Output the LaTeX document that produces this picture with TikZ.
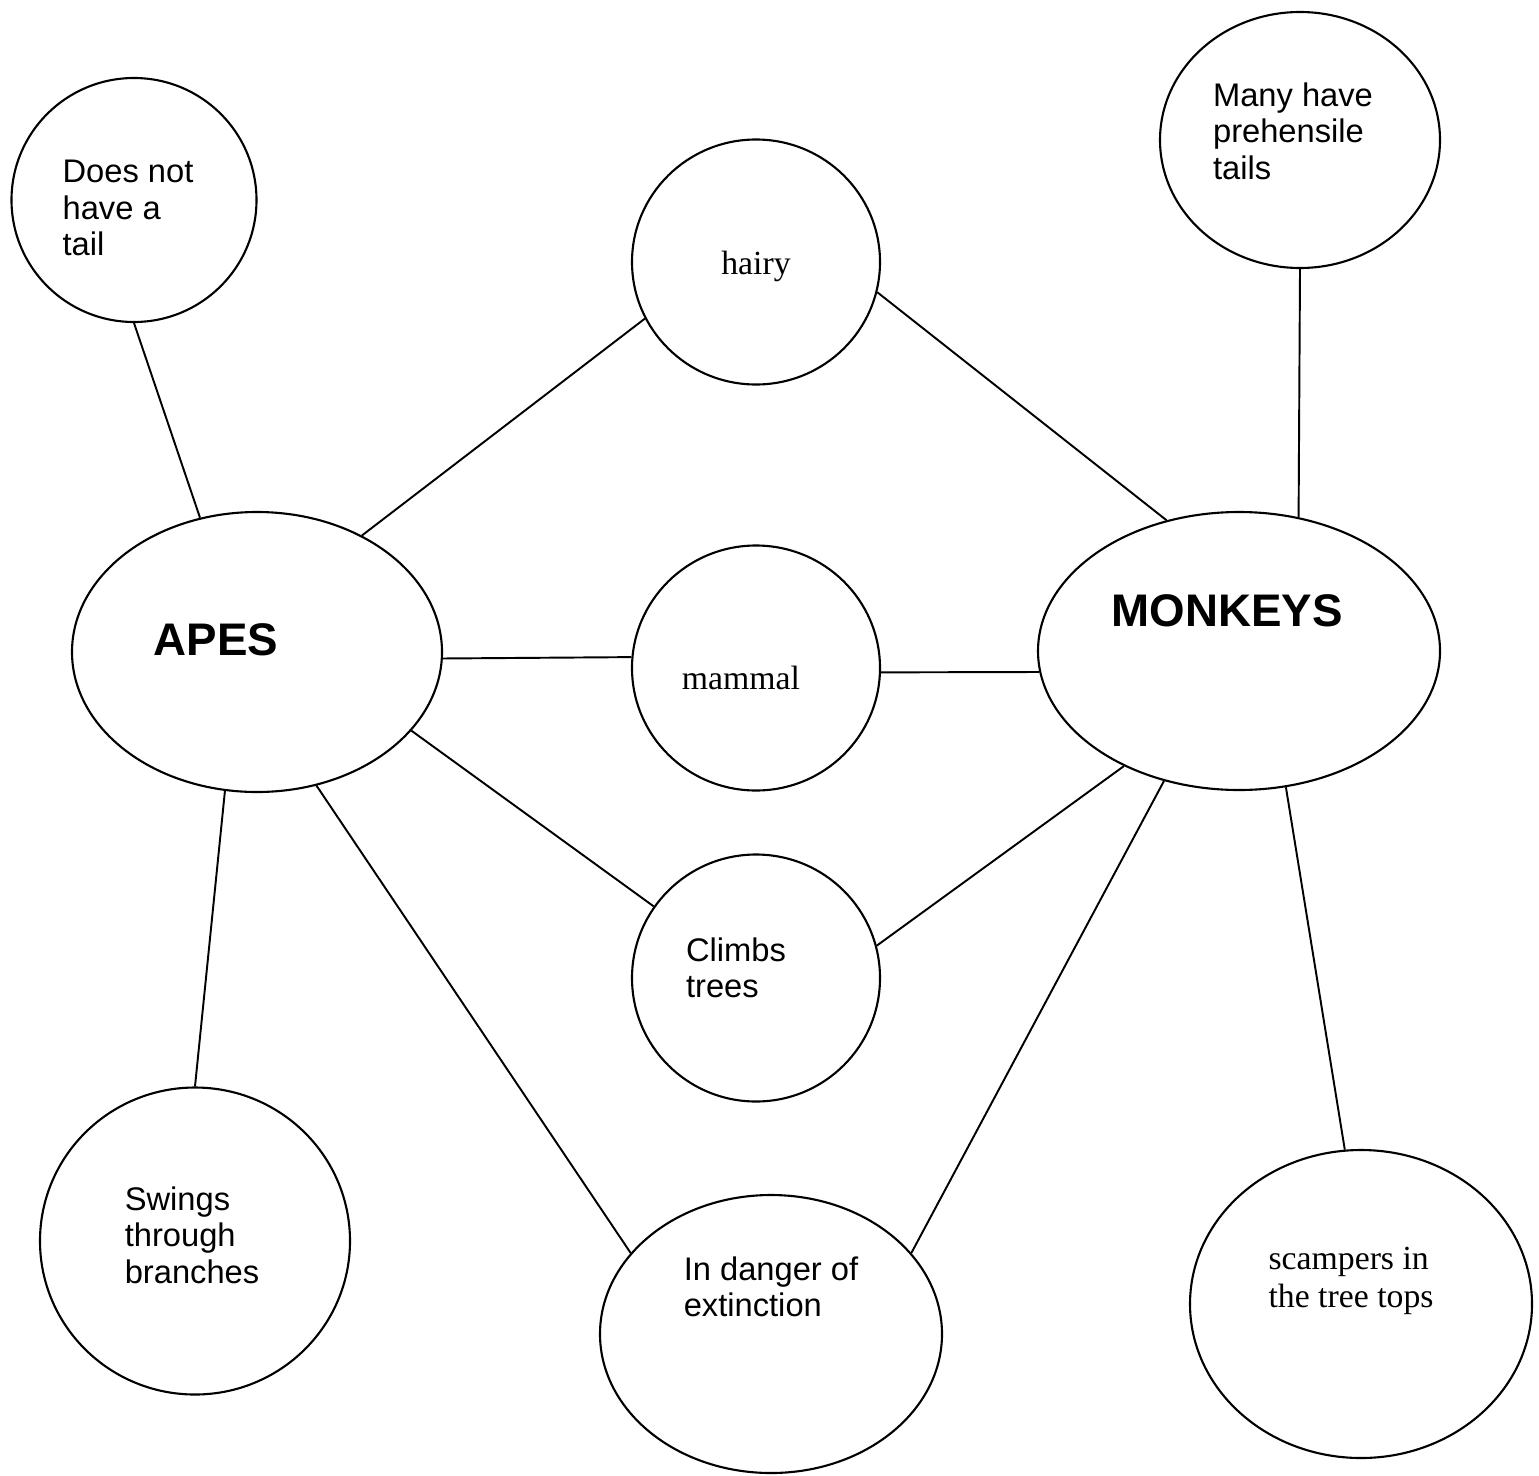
\documentclass[tikz,border=0pt]{standalone}
\usepackage{fontspec}
\setmainfont{Liberation Sans}
\newfontfamily\serifface{Liberation Serif}
\usetikzlibrary{shapes.geometric}

\begin{document}
\begin{tikzpicture}

\tikzset{
    bubble/.style 2 args={
        draw, ellipse, line width=0.6pt, inner sep=0pt,
        minimum width=#1, minimum height=#2
    },
    plain/.style={font=\fontsize{9.3}{10.4}\selectfont, align=left, inner sep=0pt},
    serif/.style={font=\serifface\fontsize{9.6}{10.6}\selectfont, align=left, inner sep=0pt},
    big/.style={font=\bfseries\fontsize{13}{15}\selectfont, inner sep=0pt},
    link/.style={draw, line width=0.55pt}
}

% Canvas
\useasboundingbox (0,0) rectangle (15.39,-14.75);

% Main groups
\node[bubble={3.70cm}{2.80cm}, label={[big, xshift=-0.41cm, yshift=0.12cm]center:APES}] (apes) at (2.57,-6.52) {};
\node[bubble={4.02cm}{2.78cm}, label={[big, xshift=-0.12cm, yshift=0.40cm]center:MONKEYS}] (monkeys) at (12.39,-6.51) {};

% Apes only
\node[bubble={2.45cm}{2.44cm}, label={[plain, xshift=-0.06cm, yshift=-0.08cm]center:Does not\\have a\\tail}] (tail) at (1.34,-2.00) {};
\node[bubble={3.10cm}{3.07cm}, label={[plain, xshift=-0.03cm, yshift=0.06cm]center:Swings\\through\\branches}] (swings) at (1.95,-12.41) {};

% Shared
\node[bubble={2.48cm}{2.45cm}, label={[serif, yshift=-0.04cm]center:hairy}] (hairy) at (7.56,-2.62) {};
\node[bubble={2.48cm}{2.45cm}, label={[serif, xshift=-0.15cm, yshift=-0.10cm]center:mammal}] (mammal) at (7.56,-6.68) {};
\node[bubble={2.48cm}{2.47cm}, label={[plain, xshift=-0.20cm, yshift=0.10cm]center:Climbs\\trees}] (climbs) at (7.56,-9.78) {};
\node[bubble={3.42cm}{2.78cm}, label={[plain, yshift=0.47cm]center:In danger of\\extinction}] (danger) at (7.71,-13.34) {};

% Monkeys only
\node[bubble={2.80cm}{2.56cm}, label={[plain, xshift=-0.07cm, yshift=0.09cm]center:Many have\\prehensile\\tails}] (prehensile) at (13.00,-1.40) {};
\node[bubble={3.42cm}{3.08cm}, label={[serif, xshift=-0.10cm, yshift=0.23cm]center:scampers in\\the tree tops}] (scampers) at (13.61,-13.04) {};

% Links
\draw[link] (tail.south) -- (apes.113);
\draw[link] (hairy.207) -- (apes.48);
\draw[link] (hairy.346) -- (monkeys.119);
\draw[link] (prehensile.south) -- (monkeys.66);
\draw[link] (apes.358) -- (mammal.175);
\draw[link] (mammal.358) -- (monkeys.186);
\draw[link] (apes.333) -- (climbs.145);
\draw[link] (climbs.15) -- (monkeys.225);
\draw[link] (apes.257) -- (swings.north);
\draw[link] (apes.294) -- (danger.150);
\draw[link] (monkeys.240) -- (danger.30);
\draw[link] (monkeys.289) -- (scampers.96);

\end{tikzpicture}
\end{document}
